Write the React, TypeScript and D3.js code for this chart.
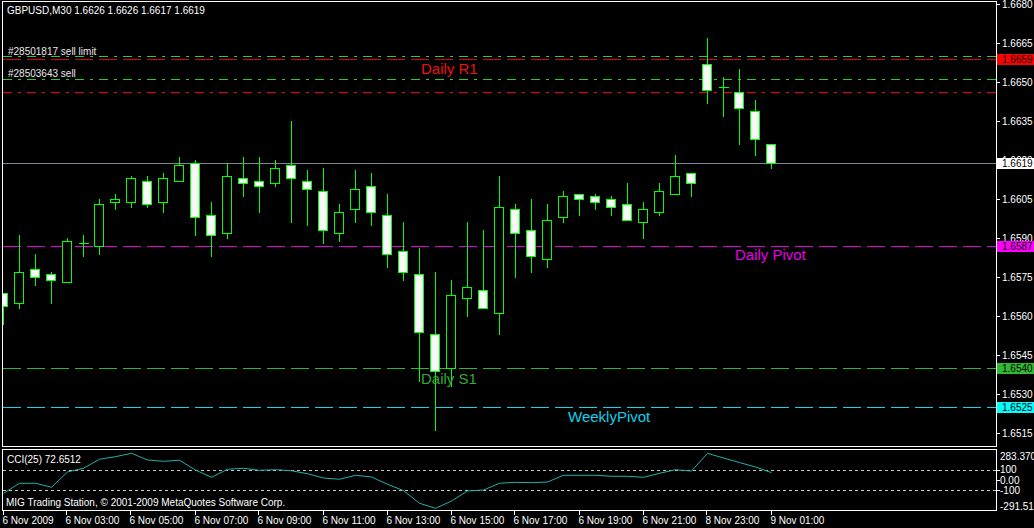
import React from "react";
import * as d3 from "d3";

// ---- data ----
const opens = [1.6569,1.6565,1.6578,1.6576,1.6573,1.6588,1.6587,1.6604,1.6604,1.6612,1.6604,1.6612,1.6619,1.6599,1.6592,1.6613,1.6612,1.6611,1.6618,1.6612,1.6608,1.6592,1.6601,1.6610,1.6599,1.6585,1.6576,1.6553,1.6540,1.6567,1.6570,1.6561,1.6601,1.6593,1.6582,1.6598,1.6607,1.6606,1.6605,1.6603,1.6596,1.6600,1.6607,1.6615,1.6657,1.6648,1.6646,1.6639,1.6626];
const highs = [1.6569,1.6591,1.6584,1.6577,1.6590,1.6591,1.6605,1.6607,1.6614,1.6614,1.6615,1.6621,1.6620,1.6604,1.6619,1.6621,1.6621,1.6620,1.6635,1.6616,1.6617,1.6603,1.6616,1.6615,1.6607,1.6596,1.6586,1.6577,1.6574,1.6596,1.6593,1.6614,1.6603,1.6605,1.6603,1.6608,1.6607,1.6607,1.6606,1.6611,1.6604,1.6611,1.6622,1.6615,1.6667,1.6652,1.6655,1.6643,1.6626];
const lows = [1.6557,1.6563,1.6572,1.6565,1.6573,1.6583,1.6584,1.6601,1.6602,1.6602,1.6600,1.6612,1.6591,1.6583,1.6590,1.6606,1.6600,1.6610,1.6596,1.6595,1.6588,1.6589,1.6596,1.6595,1.6579,1.6574,1.6535,1.6516,1.6533,1.6560,1.6563,1.6553,1.6575,1.6577,1.6579,1.6596,1.6599,1.6601,1.6599,1.6597,1.6590,1.6599,1.6607,1.6606,1.6642,1.6637,1.6626,1.6622,1.6617];
const closes = [1.6564,1.6577,1.6575,1.6574,1.6589,1.6588,1.6603,1.6605,1.6613,1.6603,1.6613,1.6618,1.6598,1.6591,1.6614,1.6611,1.6610,1.6617,1.6613,1.6609,1.6593,1.6600,1.6609,1.6600,1.6584,1.6577,1.6554,1.6539,1.6568,1.6571,1.6563,1.6602,1.6592,1.6583,1.6597,1.6606,1.6605,1.6604,1.6602,1.6597,1.6601,1.6608,1.6614,1.6611,1.6647,1.6648,1.6640,1.6628,1.6619];
const cciValues = [-129,-31,-31,-70,79,115,203,228,261,196,183,193,98,27,105,115,95,101,91,62,20,8,47,30,-41,-103,-226,-275,-204,-106,-97,-31,-22,-25,-19,47,47,47,37,37,27,66,101,88,261,215,171,128,72.65];

const xTickLabels = ["6 Nov 2009","6 Nov 03:00","6 Nov 05:00","6 Nov 07:00","6 Nov 09:00","6 Nov 11:00","6 Nov 13:00","6 Nov 15:00","6 Nov 17:00","6 Nov 19:00","6 Nov 21:00","8 Nov 23:00","9 Nov 01:00"];
const xTickIndex = [0,4,8,12,16,20,24,28,32,36,40,44,48];
const priceTicks = [1.6680,1.6665,1.6650,1.6635,1.6620,1.6605,1.6590,1.6575,1.6560,1.6545,1.6530,1.6515];
const cciTickValues = [283.370,100,0,-100,-291.515];
const cciTickLabels = ["283.370","100","0.00","-100","-291.515"];
const cciLevels = [100,-100];

// horizontal levels
const levelNames = ["sellLimit","stop","sell","dailyR1","bid","dailyPivot","dailyS1","weeklyPivot"];
const levelPrices = [1.6660,1.6659,1.6651,1.6646,1.6619,1.6587,1.6540,1.6525];
const boxLabelPrices = [1.6659,1.6619,1.6587,1.6540,1.6525];
const boxLabelTexts = ["1.6659","1.6619","1.6587","1.6540","1.6525"];

const header = "GBPUSD,M30  1.6626 1.6626 1.6617 1.6619";
const orderLabels = ["#28501817 sell limit","#28503643 sell"];
const cciTitle = "CCI(25) 72.6512";
const copyright = "MIG Trading Station, \u00a9 2001-2009 MetaQuotes Software Corp.";

// ---- styles ----
const levelStyles: Record<string, { color: string; dash: string; w: number }> = {
  sellLimit: { color: "#2ecc2e", dash: "9,6,3,6", w: 1 },
  stop: { color: "#e00000", dash: "18,6", w: 1 },
  sell: { color: "#2ecc2e", dash: "9,6,3,6", w: 1 },
  dailyR1: { color: "#ff0000", dash: "9,6,3,6", w: 1.4 },
  bid: { color: "#778899", dash: "", w: 1 },
  dailyPivot: { color: "#e600e6", dash: "18,6", w: 1 },
  dailyS1: { color: "#34b434", dash: "18,6", w: 1 },
  weeklyPivot: { color: "#10d8e8", dash: "18,6", w: 1 },
};
const boxColors = ["#ff0000", "#ffffff", "#ff00ff", "#32b832", "#00ffff"];
const FONT = "'Liberation Sans', Arial, sans-serif";

export default function App() {
  const left = 2, right = 996;
  const x = d3.scaleLinear().domain([0, 48]).range([3.5, 771.5]);
  const y = d3.scaleLinear().domain([1.6515, 1.6680]).range([433, 4]);
  const yc = d3.scaleLinear().domain([-291.515, 283.37]).range([510, 451]);
  const ry = (v: number) => Math.round(y(v)) + 0.5;

  const cciLine = d3
    .line<number>()
    .x((_, i) => x(i))
    .y((d) => yc(d));

  const bars = opens.map((o, i) => ({ o, h: highs[i], l: lows[i], c: closes[i], i }));

  return (
    <svg
      width={1034}
      height={528}
      style={{ position: "fixed", left: 0, top: 0, background: "#000", display: "block" }}
      fontFamily={FONT}
      fontSize={10}
    >
      <rect x={0} y={0} width={1034} height={528} fill="#000" />
      <defs>
        <clipPath id="mainClip">
          <rect x={3} y={2} width={993} height={444} />
        </clipPath>
        <clipPath id="cciClip">
          <rect x={3} y={450} width={993} height={60} />
        </clipPath>
      </defs>

      {/* level lines */}
      <g clipPath="url(#mainClip)" shapeRendering="crispEdges">
        {levelNames.map((n, k) => {
          const s = levelStyles[n];
          const yy = ry(levelPrices[k]);
          return (
            <line
              key={n}
              x1={left + 1}
              x2={right}
              y1={yy}
              y2={yy}
              stroke={s.color}
              strokeWidth={s.w}
              strokeDasharray={s.dash || undefined}
            />
          );
        })}
      </g>

      {/* candles */}
      <g clipPath="url(#mainClip)" shapeRendering="crispEdges">
        {bars.map((b) => {
          const cx = x(b.i);
          const top = Math.round(y(Math.max(b.o, b.c)));
          const bot = Math.round(y(Math.min(b.o, b.c)));
          const bear = b.c < b.o;
          const doji = b.c === b.o;
          return (
            <g key={b.i}>
              <line x1={cx} x2={cx} y1={Math.round(y(b.h))} y2={Math.round(y(b.l)) + 1} stroke="#00ff00" strokeWidth={1} />
              {doji ? (
                <line x1={cx - 5} x2={cx + 5} y1={top + 0.5} y2={top + 0.5} stroke="#00ff00" strokeWidth={1} />
              ) : (
                <rect
                  x={cx - 5}
                  y={top + 0.5}
                  width={9}
                  height={Math.max(1, bot - top)}
                  fill={bear ? "#f8f8f8" : "#000"}
                  stroke="#00ff00"
                  strokeWidth={1}
                />
              )}
            </g>
          );
        })}
      </g>

      {/* texts in main */}
      <text x={7} y={13.5} fill="#fff">{header}</text>
      <text x={8} y={54.5} fill="#e8e8e8">{orderLabels[0]}</text>
      <text x={8} y={77} fill="#e8e8e8">{orderLabels[1]}</text>
      <text x={421} y={74} fill="#ee1111" fontSize={15}>Daily R1</text>
      <text x={735} y={260} fill="#e600e6" fontSize={15}>Daily Pivot</text>
      <text x={421} y={383.5} fill="#34a834" fontSize={15}>Daily S1</text>
      <text x={568} y={421.5} fill="#10d0e8" fontSize={15}>WeeklyPivot</text>

      {/* frames */}
      <g shapeRendering="crispEdges" fill="none" stroke="#fff">
        <rect x={2.5} y={1.5} width={994} height={445} />
        <rect x={2.5} y={449.5} width={994} height={61} />
      </g>

      {/* price axis */}
      <g shapeRendering="crispEdges">
        {priceTicks.map((p) => (
          <g key={p}>
            <line x1={997} x2={1000} y1={ry(p)} y2={ry(p)} stroke="#fff" />
            <text x={1002} y={ry(p) + 3.5} fill="#fff">{p.toFixed(4)}</text>
          </g>
        ))}
        {boxLabelPrices.map((p, k) => (
          <g key={"b" + k}>
            <rect x={997} y={Math.round(y(p)) - 5} width={37} height={11} fill={boxColors[k]} />
            <text x={1002} y={Math.round(y(p)) + 4} fill="#000">{boxLabelTexts[k]}</text>
          </g>
        ))}
      </g>

      {/* CCI panel */}
      <g clipPath="url(#cciClip)">
        {cciLevels.map((v) => (
          <line key={v} x1={3} x2={996} y1={Math.round(yc(v)) + 0.5} y2={Math.round(yc(v)) + 0.5} stroke="#c8c8c8" strokeDasharray="3,3" shapeRendering="crispEdges" />
        ))}
        <path d={cciLine(cciValues) || ""} fill="none" stroke="#20b2aa" strokeWidth={1} />
      </g>
      <text x={7} y={462.5} fill="#fff">{cciTitle}</text>
      <text x={6} y={505.5} fill="#fff">{copyright}</text>
      {cciTickValues.map((v, k) => (
        <g key={"c" + k}>
          {k > 0 && k < 4 && (
            <line x1={997} x2={1000} y1={Math.round(yc(v)) + 0.5} y2={Math.round(yc(v)) + 0.5} stroke="#fff" shapeRendering="crispEdges" />
          )}
          <text x={1000} y={(k === 0 ? 456.5 : k === 4 ? 506 : yc(v)) + 3.5} fill="#fff">{cciTickLabels[k]}</text>
        </g>
      ))}

      {/* time axis */}
      {xTickIndex.map((idx, k) => (
        <g key={"t" + k}>
          <line x1={Math.round(x(idx)) - 0.5} x2={Math.round(x(idx)) - 0.5} y1={511} y2={515} stroke="#fff" shapeRendering="crispEdges" />
          <text x={Math.round(x(idx)) - 1.5} y={524} fill="#fff">{xTickLabels[k]}</text>
        </g>
      ))}
    </svg>
  );
}
